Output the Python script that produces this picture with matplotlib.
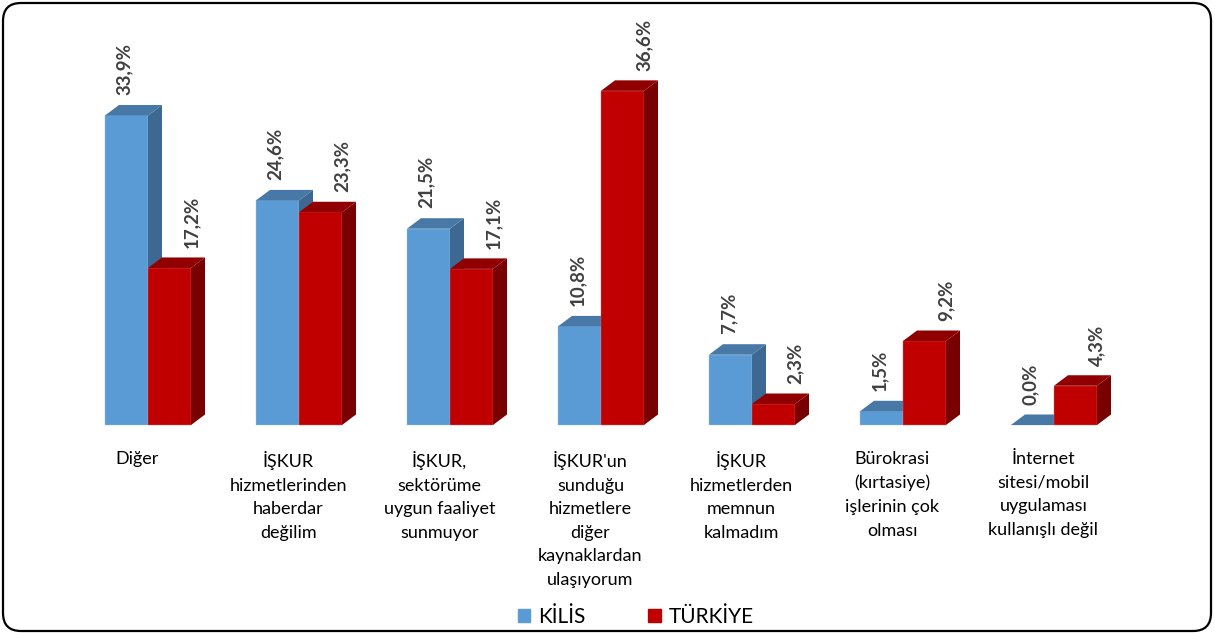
import matplotlib.pyplot as plt
from matplotlib.patches import Polygon, FancyBboxPatch, Patch

# data
categories = [
    "Diğer",
    "İŞKUR\nhizmetlerinden\nhaberdar\ndeğilim",
    "İŞKUR,\nsektörüme\nuygun faaliyet\nsunmuyor",
    "İŞKUR'un\nsunduğu\nhizmetlere\ndiğer\nkaynaklardan\nulaşıyorum",
    "İŞKUR\nhizmetlerden\nmemnun\nkalmadım",
    "Bürokrasi\n(kırtasiye)\nişlerinin çok\nolması",
    "İnternet\nsitesi/mobil\nuygulaması\nkullanışlı değil",
]
kilis = [33.9, 24.6, 21.5, 10.8, 7.7, 1.5, 0.0]
turkiye = [17.2, 23.3, 17.1, 36.6, 2.3, 9.2, 4.3]
series_names = ["KİLİS", "TÜRKİYE"]

plt.rcParams['font.family'] = ['Lato', 'DejaVu Sans']

# colours: front, top, side
blue = ('#5B9BD5', '#4878A6', '#3D6891')
red = ('#C00000', '#900000', '#780000')

# layout in pixels of the 1215x633 picture
W, H = 1215, 633
X0, GROUP = 148, 151      # centre of first group, group spacing
BASE, PCT = 425, 9.13     # baseline y pixel, pixels per percent
bw = 43 / GROUP           # bar width in group units
dx = 14 / GROUP           # depth offsets
dy = 10.5 / PCT

fig = plt.figure(figsize=(W / 100, H / 100), dpi=100)

# frame axes in pixel units for the rounded border
fax = fig.add_axes([0, 0, 1, 1])
fax.set_xlim(0, W)
fax.set_ylim(H, 0)
fax.axis('off')
fax.add_patch(FancyBboxPatch((3, 3), W - 7, H - 5,
                             boxstyle="round,pad=0,rounding_size=18",
                             fill=False, ec='black', lw=1.6))

ax = fig.add_axes([0, 0, 1, 1])
ax.set_xlim((0 - X0) / GROUP, (W - X0) / GROUP)
ax.set_ylim((BASE - H) / PCT, BASE / PCT)
ax.axis('off')


def bar3d(x, h, cols, z):
    front, top, side = cols
    ax.bar(x, h, width=bw, align='edge', color=front, zorder=z,
           edgecolor='#9DC3E6' if front == blue[0] else '#D86A6A', linewidth=0.3)
    ax.add_patch(Polygon([(x + bw, 0), (x + bw + dx, dy), (x + bw + dx, h + dy), (x + bw, h)],
                         closed=True, color=side, zorder=z, lw=0))
    ax.add_patch(Polygon([(x, h), (x + dx, h + dy), (x + bw + dx, h + dy), (x + bw, h)],
                         closed=True, color=top, zorder=z, lw=0))


for i, (k, t) in enumerate(zip(kilis, turkiye)):
    bar3d(i - bw, k, blue, 2 + 2 * i)
    bar3d(i, t, red, 3 + 2 * i)
    # value labels
    ax.annotate(f"{k:.1f}%".replace('.', ','), (i - bw / 2, k + dy),
                xytext=(-1.5, 7), textcoords='offset points', rotation=90,
                ha='center', va='bottom', fontsize=13.5, fontweight='bold', color='#404040')
    ax.annotate(f"{t:.1f}%".replace('.', ','), (i + bw, t + dy),
                xytext=(0, 7), textcoords='offset points', rotation=90,
                ha='center', va='bottom', fontsize=13.5, fontweight='bold', color='#404040')
    # category labels
    ax.text(i - 0.07, (BASE - 451) / PCT, categories[i], ha='center', va='top',
            fontsize=13, linespacing=1.58, color='black')

handles = [Patch(color=blue[0]), Patch(color=red[0])]
fig.legend(handles, series_names, loc='center', bbox_to_anchor=(636 / W, 1 - 617 / H),
           ncol=2, frameon=False, fontsize=15, handlelength=0.6, handleheight=0.6,
           handletextpad=0.4, columnspacing=3.0, borderpad=0)

fig.savefig('out.png', dpi=100)
